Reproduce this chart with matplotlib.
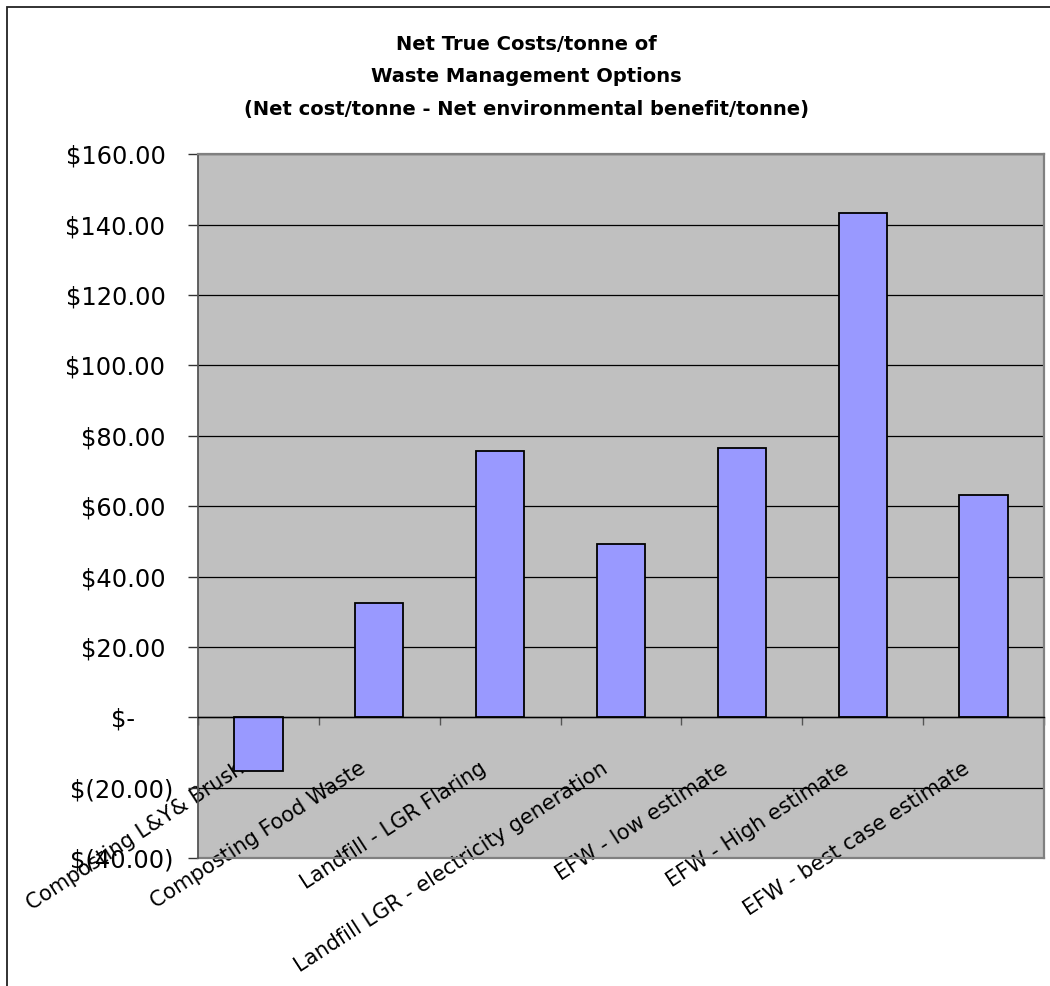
import matplotlib
matplotlib.use("Agg")
import matplotlib.pyplot as plt
from matplotlib.patches import Rectangle
import matplotlib.transforms as mtransforms

categories = ["Composting L&Y& Brush", "Composting Food Waste", "Landfill - LGR Flaring",
              "Landfill LGR - electricity generation", "EFW - low estimate",
              "EFW - High estimate", "EFW - best case estimate"]
values = [-15.3, 32.4, 75.6, 49.4, 76.7, 143.2, 63.2]
ytick_values = [-40, -20, 0, 20, 40, 60, 80, 100, 120, 140, 160]
ytick_labels = ["$(40.00)", "$(20.00)", "$-     ", "$20.00 ", "$40.00 ", "$60.00 ",
                "$80.00 ", "$100.00 ", "$120.00 ", "$140.00 ", "$160.00 "]
title_lines = ["Net True Costs/tonne of", "Waste Management Options",
               "(Net cost/tonne - Net environmental benefit/tonne)"]

plt.rcParams['font.family'] = ['DejaVu Sans']

fig = plt.figure(figsize=(10.5, 9.86), dpi=100)
fig.patch.set_facecolor("white")
# outer chart border
fig.add_artist(Rectangle((7/1050, -0.01), 1.05, 1 - 7/986 + 0.01, transform=fig.transFigure,
                         fill=False, edgecolor="#222222", linewidth=1.3))

ax = fig.add_axes([198/1050, 1 - 858.3/986, (1044 - 198)/1050, (858.3 - 154.3)/986])
ax.set_facecolor("#C0C0C0")

x = list(range(len(categories)))
ax.bar(x, values, width=0.4, color="#9999FF", edgecolor="black", linewidth=1.3, zorder=3)

ax.set_xlim(-0.5, 6.5)
ax.set_ylim(-40, 160)
ax.set_yticks(ytick_values)
ax.set_yticklabels(ytick_labels, fontsize=17.4)
ax.yaxis.grid(True, color="black", linewidth=0.9, zorder=1)
ax.set_axisbelow(True)

# spines
for s in ["top", "right"]:
    ax.spines[s].set_color("#808080")
    ax.spines[s].set_linewidth(1.6)
ax.spines["left"].set_color("#555555")
ax.spines["left"].set_linewidth(1.3)
ax.spines["bottom"].set_position(("data", 0))
ax.spines["bottom"].set_color("black")
ax.spines["bottom"].set_linewidth(1.0)
ax.spines["bottom"].set_zorder(4)
# bottom border of plot area
ax.axhline(-40, color="#808080", linewidth=1.6, zorder=2, clip_on=False)

ax.tick_params(axis="y", direction="out", length=7.5, width=1, color="#333333", pad=10.5)

ax.set_xticks([i + 0.5 for i in range(-1, 7)])
ax.set_xticklabels([""] * 8)
ax.tick_params(axis="x", which="major", direction="out", length=5.5, width=1, color="#555555")
ax.set_xticks(x, minor=True)
ax.set_xticklabels(categories, minor=True, fontsize=15, rotation=33, ha="right", va="top",
                   rotation_mode="anchor")
ax.tick_params(axis="x", which="minor", length=0, pad=29.5)
offset = mtransforms.ScaledTranslation(-21/100, 0, fig.dpi_scale_trans)
for lbl in ax.get_xticklabels(minor=True):
    lbl.set_transform(lbl.get_transform() + offset)

title_baselines = [50, 82, 115]
for line, yb in zip(title_lines, title_baselines):
    fig.text(526.5/1050, 1 - yb/986, line, ha="center", va="baseline",
             fontsize=14, fontweight="bold")

fig.savefig("out.png", dpi=100)
